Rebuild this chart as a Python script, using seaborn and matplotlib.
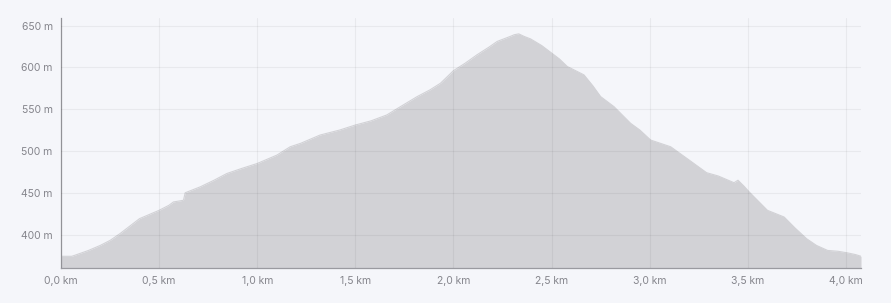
import matplotlib
matplotlib.use("Agg")
import matplotlib.pyplot as plt
import seaborn as sns
import pandas as pd

distance_km = [0.0, 0.055, 0.08, 0.14, 0.2, 0.25, 0.30, 0.35, 0.40, 0.45, 0.50, 0.55, 0.573,
               0.624, 0.633, 0.709, 0.78, 0.845, 0.92, 1.0, 1.05, 1.10, 1.168, 1.22, 1.32,
               1.42, 1.5, 1.58, 1.66, 1.73, 1.815, 1.88, 1.934, 2.0, 2.06, 2.12, 2.18, 2.223,
               2.29, 2.31, 2.333, 2.36, 2.393, 2.45, 2.495, 2.54, 2.58, 2.665, 2.71, 2.75,
               2.818, 2.903, 2.95, 3.005, 3.107, 3.19, 3.29, 3.35, 3.43, 3.45, 3.48, 3.507,
               3.60, 3.685, 3.74, 3.80, 3.85, 3.907, 3.96, 4.01, 4.05, 4.077]
elevation_m = [374, 374, 376, 381, 387, 393, 401, 410, 419, 424, 429, 435, 439,
               441, 450, 457, 465, 473, 479, 485, 490, 495, 505, 509, 519,
               525, 531, 536, 543, 553, 565, 573, 581, 596, 605, 615, 624, 631,
               637, 639, 640, 637, 634, 626, 618, 610, 601, 591, 578, 565,
               553, 533, 525, 513, 505, 491, 474, 470, 462, 465, 458, 451,
               429, 421, 408, 395, 387, 381, 380, 378, 376, 374]
y_ticks = [400, 450, 500, 550, 600, 650]
y_tick_labels = ["400 m", "450 m", "500 m", "550 m", "600 m", "650 m"]
x_ticks = [0.0, 0.5, 1.0, 1.5, 2.0, 2.5, 3.0, 3.5, 4.0]
x_tick_labels = ["0,0 km", "0,5 km", "1,0 km", "1,5 km", "2,0 km", "2,5 km", "3,0 km", "3,5 km", "4,0 km"]

df = pd.DataFrame({"distance": distance_km, "elevation": elevation_m})

sns.set_theme(style="white")
plt.rcParams["font.family"] = ["Inter", "DejaVu Sans"]

bg = "#f5f6fa"
fig = plt.figure(figsize=(8.91, 3.03), dpi=100, facecolor=bg)
ax = fig.add_axes([61 / 891, 1 - 268 / 303, 800 / 891, 250 / 303])
ax.set_facecolor(bg)

xmax = df["distance"].max()
ymin, ymax = 360, 659

ax.fill_between(df["distance"], df["elevation"], ymin, color="#d2d2d6", linewidth=0, zorder=1)
sns.lineplot(data=df, x="distance", y="elevation", ax=ax, color="#d2d2d6", linewidth=0.8,
             zorder=1)

ax.set_xlim(0, xmax)
ax.set_ylim(ymin, ymax)
ax.set_xticks(x_ticks)
ax.set_xticklabels(x_tick_labels)
ax.set_yticks(y_ticks)
ax.set_yticklabels(y_tick_labels)
ax.set_xticks([0, xmax], minor=True)
ax.set_yticks([ymin, ymax], minor=True)
ax.tick_params(axis="both", which="major", length=0, labelsize=7.5, labelcolor="#85858c", pad=6)
ax.tick_params(axis="both", which="minor", length=5, width=0.9, color="#9a9aa0", direction="out")

ax.grid(True, which="major", color="#000000", alpha=0.05, linewidth=0.8, zorder=2)
ax.set_axisbelow(False)

for s in ["top", "right"]:
    ax.spines[s].set_visible(False)
for s in ["left", "bottom"]:
    ax.spines[s].set_color("#9a9aa0")
    ax.spines[s].set_linewidth(0.9)

ax.set_xlabel("")
ax.set_ylabel("")

fig.savefig("out.png", dpi=100, facecolor=bg)
